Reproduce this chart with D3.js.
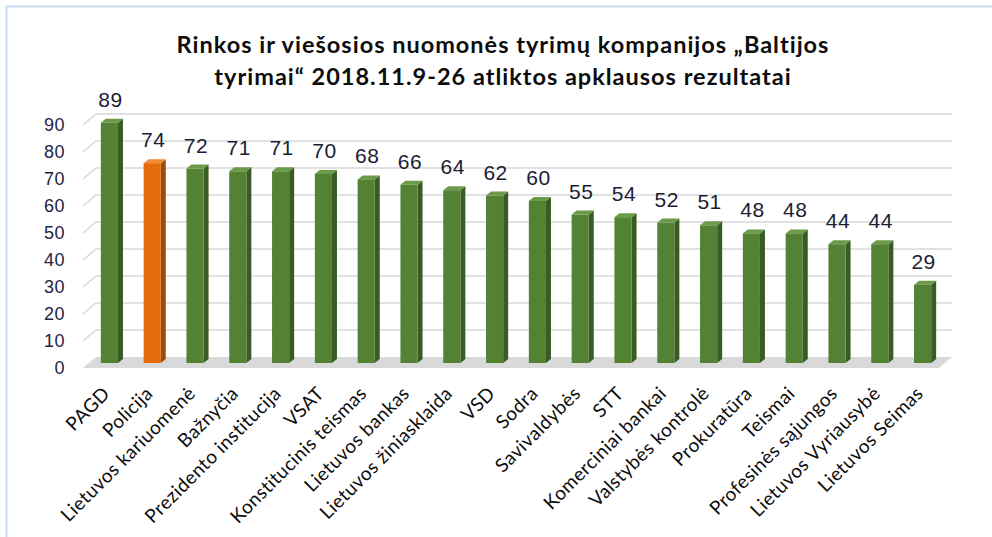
<!DOCTYPE html>
<html>
<head>
<meta charset="utf-8">
<script src="https://cdn.jsdelivr.net/npm/d3@7"></script>
<style>
  body { margin: 0; background: #fff; }
  svg { display: block; }
</style>
</head>
<body>
<svg id="chart"></svg>
<script>
let categories = ["PAGD", "Policija", "Lietuvos kariuomenė", "Bažnyčia", "Prezidento institucija", "VSAT",
    "Konstitucinis teismas", "Lietuvos bankas", "Lietuvos žiniasklaida", "VSD", "Sodra", "Savivaldybės",
    "STT", "Komerciniai bankai", "Valstybės kontrolė", "Prokuratūra", "Teismai", "Profesinės sąjungos",
    "Lietuvos Vyriausybė", "Lietuvos Seimas"];
let values = [89, 74, 72, 71, 71, 70, 68, 66, 64, 62, 60, 55, 54, 52, 51, 48, 48, 44, 44, 29];
let highlighted = ["Policija"];
let yTicks = [0, 10, 20, 30, 40, 50, 60, 70, 80, 90];
let titleLines = ["Rinkos ir viešosios nuomonės tyrimų kompanijos „Baltijos", "tyrimai“ 2018.11.9-26 atliktos apklausos rezultatai"];

let width = 992,
    height = 537,
    depthX = 13,                // floor / back wall offset
    barDx = 5, barDy = 4,       // bar side/top depth
    svg = d3.select("#chart").attr("width", width).attr("height", height);

// bar plane, front plane (axis labels) and back wall
let x = d3.scaleBand(categories, [88, 944]).paddingInner(0.6).paddingOuter(0.3),
    y = d3.scaleLinear([0, 90], [363, 120]),
    yFront = d3.scaleLinear([0, 90], [368, 125]),
    yBack = d3.scaleLinear([0, 90], [357, 114]);

let frontLeft = 83, backLeft = frontLeft + depthX, backRight = 952;

// frame
svg.append("path")
    .attr("d", "M6.5,537 V6.5 H992")
    .attr("fill", "none")
    .attr("stroke", "#c9dcf2")
    .attr("stroke-width", 2);

// title
svg.append("g").selectAll("text")
    .data(titleLines)
    .enter()
    .append("text")
    .attr("x", 503)
    .attr("y", function(d, i){ return 53 + i * 32; })
    .attr("text-anchor", "middle")
    .style("font-family", "Lato, 'Open Sans', sans-serif")
    .style("font-weight", "700")
    .style("font-size", "23.5px")
    .style("letter-spacing", "1px")
    .style("fill", "#0d0d0d")
    .text(function(d){ return d; });

// floor
svg.append("path")
    .attr("d", "M" + frontLeft + "," + yFront(0) + " L" + backLeft + "," + yBack(0) +
        " L" + backRight + "," + yBack(0) + " L" + (backRight - depthX) + "," + yFront(0) + "Z")
    .attr("fill", "#d9d9d9");

// gridlines on side + back wall
let grid = svg.append("g");
grid.selectAll(".grid")
    .data(yTicks.filter(function(t){ return t > 0; }))
    .enter()
    .append("path")
    .attr("class", "grid")
    .attr("d", function(t){
        return "M" + frontLeft + "," + yFront(t) + " L" + backLeft + "," + yBack(t) + " H" + backRight;
    })
    .attr("fill", "none")
    .attr("stroke", "#d9d9d9")
    .attr("stroke-width", 1.6);

// y axis labels
let yAxis = d3.axisLeft(yFront).tickValues(yTicks).tickSize(0).tickPadding(0);
let gy = svg.append("g")
    .attr("transform", "translate(65,0)")
    .call(yAxis);
gy.select(".domain").remove();
gy.selectAll("text")
    .style("font-family", "'Liberation Sans', Arial, sans-serif")
    .style("font-size", "18px")
    .style("letter-spacing", "0.5px")
    .style("fill", "#1f2440");

// bars
let colors = {
    green: {front: "#548235", side: "#3a5c24", top: "#6b9a48"},
    orange: {front: "#e46c0a", side: "#9e4b07", top: "#f08a33"}
};
let bars = svg.append("g").selectAll(".bar")
    .data(categories.map(function(c, i){ return {name: c, value: values[i]}; }))
    .enter()
    .append("g")
    .attr("class", "bar");

function col(d){ return highlighted.indexOf(d.name) >= 0 ? colors.orange : colors.green; }

bars.append("path")
    .attr("d", function(d){
        let x1 = x(d.name) + x.bandwidth(), y0 = y(0), y1 = y(d.value);
        return "M" + x1 + "," + y0 + " L" + (x1 + barDx) + "," + (y0 - barDy) +
            " L" + (x1 + barDx) + "," + (y1 - barDy) + " L" + x1 + "," + y1 + "Z";
    })
    .attr("fill", function(d){ return col(d).side; });

bars.append("path")
    .attr("d", function(d){
        let x0 = x(d.name), x1 = x0 + x.bandwidth(), y1 = y(d.value);
        return "M" + x0 + "," + y1 + " L" + (x0 + barDx) + "," + (y1 - barDy) +
            " L" + (x1 + barDx) + "," + (y1 - barDy) + " L" + x1 + "," + y1 + "Z";
    })
    .attr("fill", function(d){ return col(d).top; });

bars.append("rect")
    .attr("x", function(d){ return x(d.name); })
    .attr("y", function(d){ return y(d.value); })
    .attr("width", x.bandwidth())
    .attr("height", function(d){ return y(0) - y(d.value); })
    .attr("fill", function(d){ return col(d).front; });

// value labels
bars.append("text")
    .attr("x", function(d){ return x(d.name) + x.bandwidth() / 2 + 1; })
    .attr("y", function(d){ return y(d.value) - barDy - 12; })
    .attr("text-anchor", "middle")
    .style("font-family", "'Liberation Sans', Arial, sans-serif")
    .style("font-size", "21px")
    .style("letter-spacing", "0.5px")
    .style("fill", "#1a1d33")
    .text(function(d){ return d.value; });

// category labels
let xAxis = d3.axisBottom(x).tickSize(0).tickPadding(0);
let gx = svg.append("g")
    .attr("transform", "translate(0,378)")
    .call(xAxis);
gx.select(".domain").remove();
gx.selectAll("text")
    .attr("x", 0)
    .attr("y", 0)
    .attr("dy", "0.35em")
    .attr("text-anchor", "end")
    .attr("transform", "translate(-3,12) rotate(-45)")
    .style("font-family", "Lato, 'Open Sans', sans-serif")
    .style("font-size", "19px")
    .style("letter-spacing", "0.4px")
    .style("fill", "#0d0d0d");
</script>
</body>
</html>
